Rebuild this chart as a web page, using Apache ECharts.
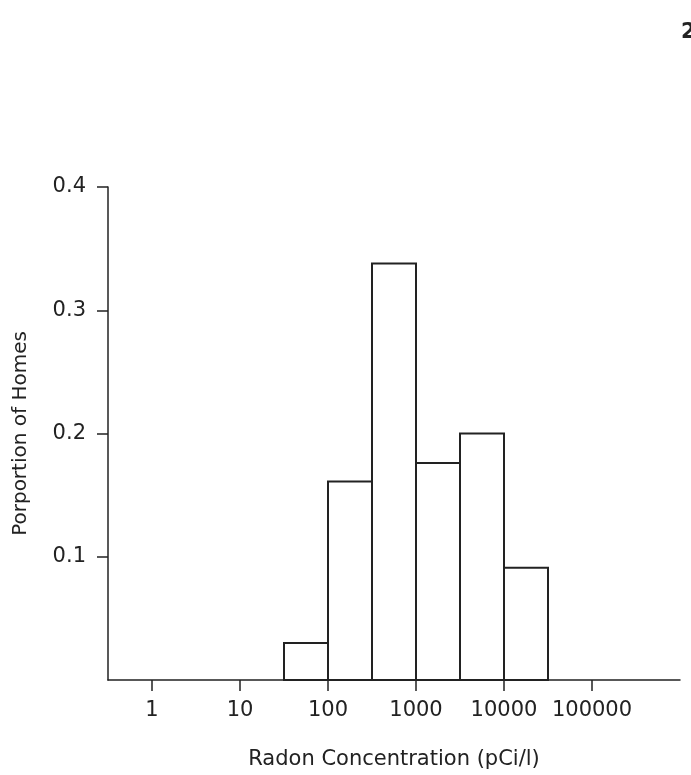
<!DOCTYPE html>
<html>
<head>
<meta charset="utf-8">
<script src="https://cdn.jsdelivr.net/npm/echarts@6/dist/echarts.min.js"></script>
<style>
  html, body { margin: 0; padding: 0; background: #fff; }
  #chart { width: 691px; height: 775px; }
</style>
</head>
<body>
<div id="chart"></div>
<script>
// histogram bins, in log10(pCi/l); each bin is half a decade wide
var binStart = [1.5, 2, 2.5, 3, 3.5, 4];
var binEnd = [2, 2.5, 3, 3.5, 4, 4.5];
var proportion = [0.03, 0.161, 0.338, 0.176, 0.2, 0.091];

// x ticks (log10 positions) and their labels
var xTickPos = [0, 1, 2, 3, 4, 5];
var xTickLabels = ['1', '10', '100', '1000', '10000', '100000'];
var yTicks = [0.1, 0.2, 0.3, 0.4];

var ink = '#222';
var font = '"DejaVu Sans", sans-serif';

var chart = echarts.init(document.getElementById('chart'));

var barData = proportion.map(function (p, i) {
    return [binStart[i], binEnd[i], p];
});

var option = {
    animation: false,
    backgroundColor: '#fff',
    graphic: [
        {
            type: 'text',
            left: 681,
            top: 22,
            style: { text: '2', font: 'bold 21px ' + font, fill: ink }
        }
    ],
    grid: {
        left: 108,
        right: 11,
        top: 187,
        bottom: 87,
        containLabel: false
    },
    xAxis: {
        type: 'value',
        min: -0.5,
        max: 6,
        name: 'Radon Concentration (pCi/l)',
        nameLocation: 'middle',
        nameGap: 69,
        nameTextStyle: {
            fontFamily: font,
            fontSize: 21,
            color: ink
        },
        splitLine: { show: false },
        axisLine: { lineStyle: { color: ink, width: 1.5 } },
        axisTick: {
            customValues: xTickPos,
            length: 11,
            lineStyle: { color: ink, width: 1.5 }
        },
        axisLabel: {
            customValues: xTickPos,
            margin: 20,
            fontFamily: font,
            fontSize: 21,
            color: ink,
            formatter: function (v) {
                return xTickLabels[xTickPos.indexOf(Math.round(v))];
            }
        }
    },
    yAxis: {
        type: 'value',
        min: 0,
        max: 0.4,
        name: 'Porportion of Homes',
        nameLocation: 'middle',
        nameGap: 77,
        nameTextStyle: {
            fontFamily: font,
            fontSize: 20,
            color: ink
        },
        splitLine: { show: false },
        axisLine: { show: true, onZero: false, lineStyle: { color: ink, width: 1.5 } },
        axisTick: {
            show: true,
            customValues: yTicks,
            length: 11,
            lineStyle: { color: ink, width: 1.5 }
        },
        axisLabel: {
            customValues: yTicks,
            margin: 22,
            fontFamily: font,
            fontSize: 21,
            color: ink,
            formatter: function (v) { return v.toFixed(1); }
        }
    },
    series: [
        {
            type: 'custom',
            data: barData,
            encode: { x: [0, 1], y: 2 },
            renderItem: function (params, api) {
                var p0 = api.coord([api.value(0), api.value(2)]);
                var p1 = api.coord([api.value(1), 0]);
                return {
                    type: 'rect',
                    shape: {
                        x: p0[0],
                        y: p0[1],
                        width: p1[0] - p0[0],
                        height: p1[1] - p0[1]
                    },
                    style: { fill: '#fff', stroke: ink, lineWidth: 2 }
                };
            }
        }
    ]
};

chart.setOption(option);
window.addEventListener('resize', function () {
    chart.resize();
});
</script>
</body>
</html>
